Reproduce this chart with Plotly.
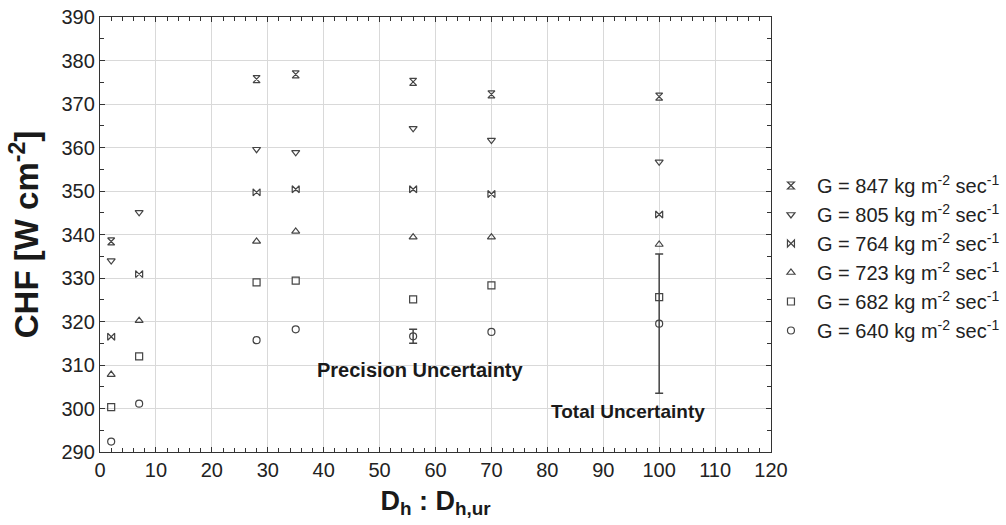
import plotly.graph_objects as go

# ---- data ----
x_all = [2, 7, 28, 35, 56, 70, 100]
x_847 = [2, 28, 35, 56, 70, 100]
g847 = [338.4, 375.7, 376.8, 375.1, 372.2, 371.7]
g805 = [334.0, 345.1, 359.6, 358.9, 364.4, 361.7, 356.7]
g764 = [316.5, 330.9, 349.7, 350.4, 350.4, 349.3, 344.6]
g723 = [307.8, 320.2, 338.4, 340.7, 339.4, 339.4, 337.7]
g682 = [300.3, 312.0, 329.0, 329.4, 325.1, 328.3, 325.6]
g640 = [292.4, 301.1, 315.7, 318.2, 316.6, 317.6, 319.5]

err_x = [56, 100]
err_y = [316.6, 319.5]
err_val = [1.6, 16.0]

labels = ["G = 847 kg m<sup>-2</sup> sec<sup>-1</sup>",
          "G = 805 kg m<sup>-2</sup> sec<sup>-1</sup>",
          "G = 764 kg m<sup>-2</sup> sec<sup>-1</sup>",
          "G = 723 kg m<sup>-2</sup> sec<sup>-1</sup>",
          "G = 682 kg m<sup>-2</sup> sec<sup>-1</sup>",
          "G = 640 kg m<sup>-2</sup> sec<sup>-1</sup>"]
symbols = ["hourglass-open", "triangle-down-open", "bowtie-open",
           "triangle-up-open", "square-open", "circle-open"]
series = [(x_847, g847), (x_all, g805), (x_all, g764),
          (x_all, g723), (x_all, g682), (x_all, g640)]

col = "#444444"
fig = go.Figure()
for (xs, ys), lab, sym in zip(series, labels, symbols):
    fig.add_trace(go.Scatter(
        x=xs, y=ys, mode="markers", name=lab,
        marker=dict(symbol=sym, size=7, color=col, line=dict(width=1.2, color=col))))

fig.add_trace(go.Scatter(
    x=err_x, y=err_y, mode="markers", showlegend=False,
    marker=dict(size=1, color="rgba(0,0,0,0)"),
    error_y=dict(type="data", array=err_val, visible=True,
                 color=col, thickness=1.5, width=4)))

fig.add_annotation(x=57.4, y=308.8, text="<b>Precision Uncertainty</b>",
                   showarrow=False, font=dict(size=20, color="#1a1a1a"))
fig.add_annotation(x=94.5, y=299.3, text="<b>Total Uncertainty</b>",
                   showarrow=False, font=dict(size=19, color="#1a1a1a"))

tickfont = dict(size=20, color="#222", family="Liberation Sans, Arial, sans-serif")
axis_common = dict(showline=True, linecolor="#333", linewidth=1.3, mirror="allticks",
                   ticks="inside", ticklen=5, tickcolor="#333",
                   showgrid=True, gridcolor="#d9d9d9", gridwidth=1.2,
                   zeroline=False, tickfont=tickfont, automargin=False)

fig.update_xaxes(range=[0, 120], dtick=10, tick0=0,
                 minor=dict(dtick=2, ticks="inside", ticklen=4, tickcolor="#333", showgrid=False),
                 title=dict(text="<b>D<sub>h</sub> : D<sub>h,ur</sub></b>",
                            font=dict(size=27, color="#1a1a1a"), standoff=10),
                 **axis_common)
fig.update_yaxes(range=[290, 390], dtick=10, tick0=290,
                 minor=dict(dtick=5, ticks="inside", ticklen=4, tickcolor="#333", showgrid=False),
                 title=dict(text="<b>CHF [W cm<sup>-2</sup>]</b>",
                            font=dict(size=33, color="#1a1a1a"), standoff=12),
                 **axis_common)

fig.update_layout(
    width=1006, height=525,
    margin=dict(l=100, r=235, t=17, b=73, autoexpand=False),
    paper_bgcolor="white", plot_bgcolor="white",
    font=dict(family="Liberation Sans, Arial, sans-serif", color="#222"),
    legend=dict(x=0.991, y=0.446, xanchor="left", yanchor="middle",
                font=dict(size=20, color="#222"), itemwidth=42,
                bgcolor="rgba(0,0,0,0)", tracegroupgap=0),
)

fig.write_html("out.html")
